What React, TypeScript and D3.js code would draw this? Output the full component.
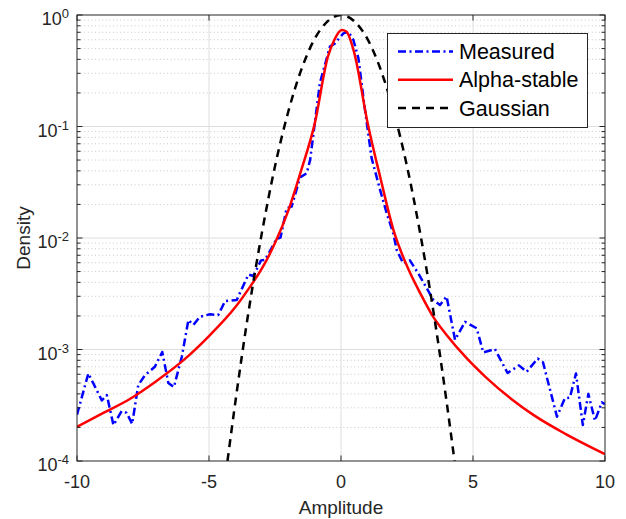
import React, { useEffect, useRef } from "react";
import * as d3 from "d3";

// Measured density
const measuredX = [
  -10, -9.57, -9.06, -8.87, -8.62, -8.31, -8.12, -7.91, -7.68, -7.42, -7.05, -6.77, -6.54, -6.33,
  -6.03, -5.78, -5.59, -5.34, -4.96, -4.65, -4.39, -3.95, -3.51, -3.32, -3.03, -2.88, -2.44, -2.29,
  -2.06, -1.87, -1.55, -1.3, -1.17, -0.8, -0.42, -0.23, 0.09, 0.28, 0.47, 0.66, 0.91, 1.16, 1.48,
  1.73, 1.98, 2.11, 2.36, 2.61, 2.93, 3.5, 3.75, 4.0, 4.32, 4.7, 5.14, 5.39, 5.83, 6.31, 6.74, 7.03,
  7.45, 7.65, 8.18, 8.48, 8.67, 8.9, 9.16, 9.37, 9.62, 9.88, 10,
];
const measuredY = [
  2.6e-4, 6.1e-4, 3.5e-4, 3.9e-4, 2.1e-4, 2.8e-4, 2.7e-4, 2.15e-4, 4.8e-4, 5.9e-4, 7.0e-4, 9.5e-4,
  5.0e-4, 4.6e-4, 8.6e-4, 1.84e-3, 1.66e-3, 1.97e-3, 2.07e-3, 2.04e-3, 2.72e-3, 2.78e-3, 4.7e-3,
  4.56e-3, 6.3e-3, 6.35e-3, 9.8e-3, 1.01e-2, 1.85e-2, 1.91e-2, 3.5e-2, 3.8e-2, 5.0e-2, 0.245, 0.52,
  0.557, 0.685, 0.708, 0.597, 0.409, 0.14, 0.052, 0.027, 0.0167, 0.011, 7.8e-3, 5.9e-3, 6.3e-3,
  4.8e-3, 2.78e-3, 2.51e-3, 2.99e-3, 1.22e-3, 1.77e-3, 1.55e-3, 9.4e-4, 1.01e-3, 6.15e-4, 7.2e-4,
  6.3e-4, 8.3e-4, 7.7e-4, 2.5e-4, 3.65e-4, 3.7e-4, 6.1e-4, 2.1e-4, 4.0e-4, 2.3e-4, 3.36e-4, 3.24e-4,
];

// Alpha-stable fit
const alphaX = [
  -10, -9, -8, -7, -6, -5, -4, -3.5, -3, -2.5, -2, -1.5, -1, -0.5, -0.25, 0.03, 0.2, 0.5, 1, 1.5,
  2, 2.5, 3, 3.5, 4, 4.75, 5.5, 6.5, 7.3, 8.5, 10,
];
const alphaY = [
  2.03e-4, 2.7e-4, 3.6e-4, 5.2e-4, 7.9e-4, 1.32e-3, 2.4e-3, 3.5e-3, 5.3e-3, 9.0e-3, 0.0175, 0.041,
  0.105, 0.42, 0.6, 0.733, 0.71, 0.46, 0.11, 0.034, 0.0115, 5.6e-3, 3.2e-3, 1.95e-3, 1.35e-3, 8.4e-4,
  5.6e-4, 3.53e-4, 2.58e-4, 1.75e-4, 1.15e-4,
];

// Gaussian fit
const gaussX = [
  -4.3, -4, -3.5, -3, -2.5, -2, -1.5, -1, -0.5, 0, 0.5, 1, 1.5, 2, 2.5, 3, 3.5, 4, 4.3,
];
const gaussY = [
  1.0e-4, 3.4e-4, 2.2e-3, 1.1e-2, 0.044, 0.135, 0.325, 0.61, 0.88, 1.0, 0.88, 0.61, 0.325, 0.135,
  0.044, 0.011, 2.2e-3, 3.4e-4, 1.0e-4,
];

const xTicks = [-10, -5, 0, 5, 10];
const yTicks = [1, 0.1, 0.01, 0.001, 0.0001];
const yExps = ["0", "-1", "-2", "-3", "-4"];

const series = [
  { name: "Measured", xs: measuredX, ys: measuredY, color: "#0000ff", dash: "8 3.5 2 3.5", curve: d3.curveLinear },
  { name: "Alpha-stable", xs: alphaX, ys: alphaY, color: "#ff0000", dash: null, curve: d3.curveMonotoneX },
  { name: "Gaussian", xs: gaussX, ys: gaussY, color: "#000000", dash: "8 6", curve: d3.curveMonotoneX },
];

const W = 626;
const H = 519;
const FONT = "'Liberation Sans', Arial, Helvetica, sans-serif";

export default function App() {
  const svgRef = useRef(null);

  useEffect(() => {
    const svg = d3.select(svgRef.current);
    svg.selectAll("*").remove();

    const margin = { top: 15, right: 21, bottom: 58, left: 77 };
    const x = d3.scaleLinear().domain([-10, 10]).range([margin.left, W - margin.right]);
    const y = d3.scaleLog().domain([1e-4, 1]).range([H - margin.bottom, margin.top]);
    const [x0, x1] = x.range();
    const [y0, y1] = y.range();

    svg.append("rect").attr("width", W).attr("height", H).attr("fill", "#fff");

    // minor grid (dotted)
    const minors = [];
    for (let e = -4; e < 0; e++) for (let m = 2; m <= 9; m++) minors.push(m * Math.pow(10, e));
    svg.append("g").selectAll("line").data(minors).enter().append("line")
      .attr("x1", x0).attr("x2", x1)
      .attr("y1", (d) => y(d)).attr("y2", (d) => y(d))
      .attr("stroke", "#c8c8c8").attr("stroke-width", 1)
      .attr("stroke-dasharray", "1 2.6");

    // major grid
    const grid = svg.append("g").attr("stroke", "#dedede").attr("stroke-width", 1);
    grid.selectAll(".gx").data(xTicks.slice(1, -1)).enter().append("line")
      .attr("x1", (d) => x(d)).attr("x2", (d) => x(d)).attr("y1", y0).attr("y2", y1);
    grid.selectAll(".gy").data(yTicks.slice(1, -1)).enter().append("line")
      .attr("x1", x0).attr("x2", x1).attr("y1", (d) => y(d)).attr("y2", (d) => y(d));

    // curves
    svg.append("clipPath").attr("id", "plotclip").append("rect")
      .attr("x", x0).attr("y", y1).attr("width", x1 - x0).attr("height", y0 - y1);
    const plot = svg.append("g").attr("clip-path", "url(#plotclip)");
    series.forEach((s) => {
      const pts = s.xs.map((v, i) => [v, s.ys[i]]);
      const line = d3.line().x((d) => x(d[0])).y((d) => y(d[1])).curve(s.curve);
      plot.append("path").attr("d", line(pts))
        .attr("fill", "none").attr("stroke", s.color).attr("stroke-width", 2.5)
        .attr("stroke-linejoin", "round")
        .attr("stroke-dasharray", s.dash);
    });

    // axes box and ticks
    const axisColor = "#262626";
    const ax = svg.append("g").attr("stroke", axisColor).attr("stroke-width", 1);
    ax.append("rect").attr("x", x0).attr("y", y1).attr("width", x1 - x0).attr("height", y0 - y1)
      .attr("fill", "none");
    xTicks.forEach((t) => {
      ax.append("line").attr("x1", x(t)).attr("x2", x(t)).attr("y1", y0).attr("y2", y0 - 5.5);
      ax.append("line").attr("x1", x(t)).attr("x2", x(t)).attr("y1", y1).attr("y2", y1 + 5.5);
    });
    yTicks.forEach((t) => {
      ax.append("line").attr("x1", x0).attr("x2", x0 + 5.5).attr("y1", y(t)).attr("y2", y(t));
      ax.append("line").attr("x1", x1).attr("x2", x1 - 5.5).attr("y1", y(t)).attr("y2", y(t));
    });
    minors.forEach((t) => {
      ax.append("line").attr("x1", x0).attr("x2", x0 + 3.5).attr("y1", y(t)).attr("y2", y(t));
      ax.append("line").attr("x1", x1).attr("x2", x1 - 3.5).attr("y1", y(t)).attr("y2", y(t));
    });

    // tick labels
    svg.append("g").selectAll("text").data(xTicks).enter().append("text")
      .attr("x", (d) => x(d)).attr("y", y0 + 27)
      .attr("text-anchor", "middle").attr("font-family", FONT).attr("font-size", 18)
      .attr("fill", axisColor).text((d) => d);

    yTicks.forEach((t, i) => {
      const tx = svg.append("text").attr("x", x0 - 8).attr("y", y(t) + 10)
        .attr("text-anchor", "end").attr("font-family", FONT).attr("font-size", 18)
        .attr("fill", axisColor);
      tx.append("tspan").text("10");
      tx.append("tspan").attr("dy", -7).attr("font-size", 13).text(yExps[i]);
    });

    // axis titles
    svg.append("text").attr("x", (x0 + x1) / 2).attr("y", y0 + 53)
      .attr("text-anchor", "middle").attr("font-family", FONT).attr("font-size", 19)
      .attr("fill", axisColor).text("Amplitude");
    svg.append("text")
      .attr("transform", `translate(${30},${(y0 + y1) / 2}) rotate(-90)`)
      .attr("text-anchor", "middle").attr("font-family", FONT).attr("font-size", 19)
      .attr("fill", axisColor).text("Density");

    // legend
    const lg = svg.append("g");
    lg.append("rect").attr("x", 387.5).attr("y", 33.5).attr("width", 200).attr("height", 94)
      .attr("fill", "#fff").attr("stroke", axisColor).attr("stroke-width", 1);
    series.forEach((s, i) => {
      const cy = 51.5 + i * 28.3;
      lg.append("line").attr("x1", 398).attr("x2", 453).attr("y1", cy).attr("y2", cy)
        .attr("stroke", s.color).attr("stroke-width", 2.5).attr("stroke-dasharray", s.dash);
      lg.append("text").attr("x", 459).attr("y", cy + 7.5)
        .attr("font-family", FONT).attr("font-size", 21.5).attr("fill", "#000").text(s.name);
    });
  }, []);

  return (
    <svg
      ref={svgRef}
      width={W}
      height={H}
      style={{ position: "absolute", left: 0, top: 0, display: "block" }}
    />
  );
}
